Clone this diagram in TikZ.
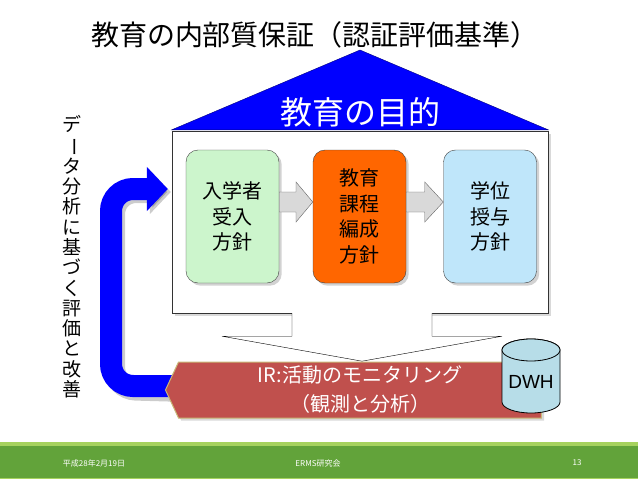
\documentclass[tikz,border=0pt]{standalone}
\usepackage{fontspec}
\setmainfont{Noto Sans CJK JP}
\newfontfamily\latinfont{Liberation Sans}
\usetikzlibrary{arrows.meta,shapes.symbols,shadows,calc}
\definecolor{admgreen}{HTML}{CCF5CC}
\definecolor{curorange}{HTML}{FF6600}
\definecolor{dipblue}{HTML}{BFE6FA}
\definecolor{irred}{HTML}{C0504D}
\definecolor{irrim}{HTML}{C8B878}
\definecolor{dbblue}{HTML}{B7DDE8}
\definecolor{footgreen}{HTML}{62A33A}
\definecolor{footlight}{HTML}{A6D25E}
\definecolor{arrgray}{HTML}{D9D9D9}
\tikzset{
  housebox/.style={draw=black!80,fill=white,minimum width=376pt,minimum height=182pt,drop shadow={opacity=.3}},
  policy/.style={draw=black!75,rounded corners=12pt,minimum width=93pt,minimum height=133pt,align=center,
    font=\fontsize{20}{25.5}\selectfont,drop shadow={opacity=.35}},
  flowarr/.style={draw=black!60,fill=arrgray},
  downarr/.style={draw=black,fill=white},
  loopline/.style={line width=22pt,blue,rounded corners=22pt,-{Triangle[width=43pt,length=21pt]}},
  irbanner/.style={signal,signal to=west,signal pointer angle=130,fill=irred,draw=irrim,line width=1pt,
    minimum width=376pt,minimum height=56pt,inner sep=0pt,text=white,align=center,
    font=\fontsize{20}{29}\selectfont,drop shadow={opacity=.3}},
  db/.style={draw=black,fill=dbblue,line width=.8pt},
  foottext/.style={text=white,font=\fontsize{8}{8}\selectfont}
}
\begin{document}
\begin{tikzpicture}[x=1pt,y=-1pt]
\useasboundingbox (0,0) rectangle (638,479);
\node[font=\fontsize{28}{28}\selectfont] (title) at (315,35) {教育の内部質保証（認証評価基準）};
\node[font=\fontsize{19}{20.3}\selectfont,align=center] (side) at (72,256.5)
  {デ\\\makebox[1em]{\rotatebox[origin=c]{-90}{ー}}\\タ\\分\\析\\に\\基\\づ\\く\\評\\価\\と\\改\\善};
% house with roof
\node[housebox] (house) at (360,222) {};
\coordinate (apex) at (360,50);
\filldraw[fill=blue,draw=blue!50!black] ([yshift=1pt]house.north west) -- (apex) -- ([yshift=1pt]house.north east) -- cycle;
\node[text=white,font=\fontsize{32}{32}\selectfont] (goal) at (360,112) {教育の目的};
% three policies
\node[policy,fill=admgreen] (adm) at (232.5,216.5) {入学者\\受入\\方針};
\node[policy,fill=curorange] (cur) at (359.5,216.5) {教育\\課程\\編成\\方針};
\node[policy,fill=dipblue] (dip) at (490,216.5) {学位\\授与\\方針};
\foreach \a/\b in {adm/cur,cur/dip}
  \draw[flowarr] let \p1=([yshift=14.5pt]\a.east), \p2=(\b.west) in
    (\x1,\y1+10pt) -- ({(\x1+\x2)/2},\y1+10pt) -- ({(\x1+\x2)/2},\y1+20pt) -- (\x2,\y1)
    -- ({(\x1+\x2)/2},\y1-20pt) -- ({(\x1+\x2)/2},\y1-10pt) -- (\x1,\y1-10pt) -- cycle;
% IR banner and loop back
\coordinate (tip) at ([xshift=-4pt,yshift=33pt]house.west);
\coordinate (irw) at (172,390);
\draw[downarr] ([xshift=-68pt]house.south) -- ++(0,23) -- ++(-70,0) -- ++(140,25) -- ++(140,-25) -- ++(-70,0) -- ++(0,-23);
\draw[loopline,black,opacity=.2] ([xshift=14pt,yshift=-1pt]irw) -- (114,389) -- (114,192) -- ([xshift=3pt,yshift=-3pt]tip);
\draw[loopline] ([xshift=12pt,yshift=4pt]irw) -- (111,386) -- (111,189) -- (tip);
\node[irbanner] (ir) at (360,390) {IR:活動のモニタリング\\（観測と分析）};
% data warehouse
\draw[db] (502,350) -- (502,402) arc[start angle=180,end angle=0,x radius=29,y radius=11]
  -- (560,350) arc[start angle=0,end angle=-180,x radius=29,y radius=11] -- cycle;
\draw[db] (531,350) ellipse[x radius=29,y radius=11];
\node[font=\latinfont\fontsize{19}{19}\selectfont] (dwh) at (531,382) {DWH};
% footer
\fill[footgreen] (0,442) rectangle (638,479);
\fill[footlight] (0,442) rectangle (638,446);
\fill[footlight] (0,477.5) rectangle (638,479);
\node[foottext] (date) at (94,463) {平成28年2月19日};
\node[foottext] (org) at (318,463) {ERMS研究会};
\node[foottext] (page) at (577,463) {13};
\end{tikzpicture}
\end{document}
